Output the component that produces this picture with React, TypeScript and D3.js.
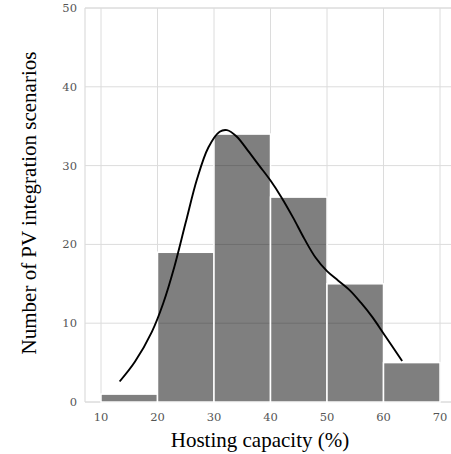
import React from "react";
import * as d3 from "d3";

const binEdges = [10, 20, 30, 40, 50, 60, 70];
const binCounts = [1, 19, 34, 26, 15, 5];
const kdeX = [13.3, 16, 19, 21, 23, 25, 27, 29, 31, 32.3, 34, 36, 38, 40, 42, 44, 46, 48, 50, 52, 54, 56, 58, 60, 63.3];
const kdeY = [2.6, 5.1, 8.9, 12.5, 17.2, 22.8, 28.3, 32.3, 34.3, 34.5, 33.7, 31.9, 30.0, 28.1, 25.9, 23.4, 20.7, 18.3, 16.6, 15.4, 14.2, 12.6, 10.8, 8.7, 5.2];
const xTicks = [10, 20, 30, 40, 50, 60, 70];
const yTicks = [0, 10, 20, 30, 40, 50];
const xLabel = "Hosting capacity (%)";
const yLabel = "Number of PV integration scenarios";

export default function App() {
  const W = 451, H = 454;
  const left = 85, right = 451, top = 8, bottom = 402;
  const x = d3.scaleLinear().domain([10, 70]).range([101, 440]);
  const y = d3.scaleLinear().domain([0, 50]).range([bottom, top]);
  const grid = "#dcdcdc";
  const line = d3.line<number>()
    .x((_, i) => x(kdeX[i]))
    .y((d) => y(d))
    .curve(d3.curveCatmullRom.alpha(0.5));
  return (
    <svg width={W} height={H} style={{ position: "absolute", left: 0, top: 0 }}>
      <rect x={0} y={0} width={W} height={H} fill="white" />
      {xTicks.map((t) => (
        <line key={"gx" + t} x1={x(t)} x2={x(t)} y1={top} y2={bottom} stroke={grid} strokeWidth={1} />
      ))}
      {yTicks.map((t) => (
        <line key={"gy" + t} x1={left} x2={right} y1={y(t)} y2={y(t)} stroke={grid} strokeWidth={1} />
      ))}
      <line x1={left} x2={left} y1={top} y2={bottom} stroke={grid} strokeWidth={1.2} />
      <line x1={left} x2={right} y1={bottom} y2={bottom} stroke={grid} strokeWidth={1.2} />
      <line x1={left} x2={right} y1={top} y2={top} stroke={grid} strokeWidth={1.2} />
      {binCounts.map((c, i) => (
        <rect
          key={"b" + i}
          x={x(binEdges[i])}
          y={y(c)}
          width={x(binEdges[i + 1]) - x(binEdges[i])}
          height={y(0) - y(c)}
          fill="rgba(0,0,0,0.5)"
          stroke="white"
          strokeWidth={1.5}
        />
      ))}
      <path d={line(kdeY) || ""} fill="none" stroke="black" strokeWidth={1.9} />
      {xTicks.map((t) => (
        <text key={"tx" + t} x={x(t)} y={421} textAnchor="middle" fontFamily="DejaVu Serif" fontSize={11.5} fill="#555">
          {t}
        </text>
      ))}
      {yTicks.map((t) => (
        <text key={"ty" + t} x={77} y={y(t)} dy="0.35em" textAnchor="end" fontFamily="DejaVu Serif" fontSize={11.5} fill="#555">
          {t}
        </text>
      ))}
      <text x={260} y={447} textAnchor="middle" fontFamily="Liberation Serif" fontSize={21} fill="black">
        {xLabel}
      </text>
      <text
        transform={`translate(36, 203) rotate(-90)`}
        textAnchor="middle"
        fontFamily="Liberation Serif"
        fontSize={21}
        fill="black"
      >
        {yLabel}
      </text>
    </svg>
  );
}
